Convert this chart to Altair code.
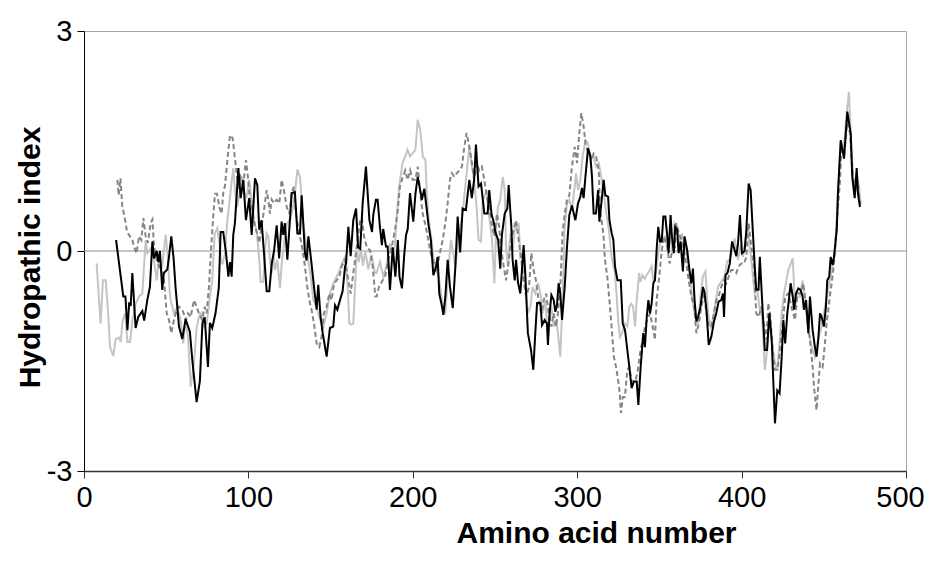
import altair as alt
import pandas as pd

# Hydropathic index profiles (amino acid number, index)
light_pts = [
    [7.7,-0.17],[10.1,-0.99],[11.5,-0.4],[13.2,-0.4],[14.7,-0.85],[15.8,-1.31],[17.8,-1.43],[19.3,-1.2],
    [21.2,-1.18],[22.3,-1.24],[23.5,-0.95],[25,-0.85],[26.4,-1.24],[28,-1.24],[29.4,-0.95],[31.4,-0.72],
    [33.5,-0.62],[35.5,-0.58],[36.5,-0.21],[37.5,0.15],[38.5,-0.03],[40.5,0.03],[42.6,-0.12],[44.2,-0.4],
    [45.6,-0.1],[47.6,-0.2],[49.7,0.22],[51.1,-0.1],[52.1,-0.55],[52.7,-0.67],[54.7,-0.85],[56.8,-0.76],
    [58.8,-0.94],[60.4,-1.26],[61.8,-0.94],[63.3,-1.17],[64.9,-1.85],[66.9,-1.53],[68.5,-1.05],[69.9,-0.9],
    [71.3,-0.85],[73,-1.03],[74.6,-0.99],[76.6,-0.62],[78,-0.4],[79.5,0.24],[81.1,0.31],[82.7,0.06],
    [83.5,-0.17],[84.3,-0.17],[85.8,-0.03],[87.2,0.42],[88.4,0.65],[89.8,0.95],[90.8,1.13],[91.8,0.83],
    [93.2,0.6],[94.6,0.79],[95.9,1.01],[97.3,0.8],[98.9,0.74],[100.5,0.97],[101.3,0.83],[102.5,0.51],
    [103.9,0.38],[105.4,0.2],[106.6,-0.12],[107.4,-0.42],[109,-0.42],[110.1,0.01],[111.1,0.24],[112.1,0.2],
    [113.1,-0.12],[114.2,-0.3],[115.2,-0.03],[116.2,-0.26],[117.6,-0.12],[119.2,-0.51],[120.2,-0.19],[122.3,0.24],
    [123.6,0.38],[125.2,0.42],[126.8,0.56],[128.3,0.79],[129.8,1.11],[131.4,1.01],[132.4,0.7],[133.4,0.38],
    [135,0.11],[136.5,-0.14],[137.9,-0.35],[139.5,-0.67],[141.5,-0.76],[143.6,-0.94],[145.6,-1.03],[147.6,-0.85],
    [149.6,-0.58],[151.6,-0.45],[153.7,-0.35],[155.7,-0.25],[157.3,-0.15],[158.8,-0.08],[160.3,-0.45],[161.4,-0.99],
    [162.8,-1.0],[163.8,-0.99],[164.8,-0.53],[165.9,0.01],[167.2,-0.15],[168.4,0.03],[169.7,-0.2],[171.1,0.0],
    [172.9,-0.25],[174.9,-0.05],[176.9,-0.3],[178,-0.3],[180,-0.15],[182.1,-0.35],[184,-0.2],[186.1,0.1],
    [188.2,-0.05],[189.2,0.1],[190.1,0.42],[191.7,0.88],[193.7,1.2],[195.4,1.29],[196.8,1.38],[198.3,1.29],
    [199.9,1.33],[201.6,1.38],[203,1.79],[204.5,1.65],[206.1,1.29],[207.7,1.24],[208.5,0.79],[209.7,0.42],
    [211.1,0.2],[212.5,-0.08],[214.2,-0.26],[215.8,-0.35],[217.2,-0.58],[218.6,-0.85],[219.8,-0.85],[220.6,-0.58],
    [221.8,-0.21],[223.2,0.15],[224.6,-0.03],[225.9,-0.21],[228.3,0.24],[230.3,0.51],[232.3,0.97],[234.4,1.42],
    [236,1.15],[237.3,0.97],[238.8,0.6],[240,0.15],[241.5,0.13],[242.5,0.7],[243.5,0.74],[245,0.83],
    [246.5,0.47],[248.2,0.15],[249.6,-0.44],[250.8,0.33],[251.8,0.6],[253.2,0.7],[254.7,1.01],[255.9,0.83],
    [256.7,0.06],[257.9,-0.21],[259.3,0.24],[260.8,0.01],[262.4,0.38],[263.4,0.29],[264.4,0.38],[265.4,-0.08],
    [266.8,-0.03],[268.4,-0.44],[270,-0.85],[271.5,-0.76],[272.9,-0.49],[274.5,-0.58],[276.2,-0.44],[277.6,-0.58],
    [279,-0.85],[280.6,-0.67],[282.2,-1.17],[283,-0.94],[284.3,-0.76],[285.7,-1.03],[287.1,-0.94],[288.3,-1.12],
    [289.7,-1.44],[290.8,-0.85],[292.4,0.33],[293.8,0.65],[295.2,0.7],[296.8,0.56],[298.5,0.88],[299.3,1.06],
    [300.5,0.83],[301.9,0.97],[303.3,1.29],[305,1.51],[306.6,1.47],[308,1.24],[310,1.29],[311.5,1.15],
    [313.1,1.2],[314.7,1.0],[316.1,0.8],[317.5,0.55],[319.2,0.3],[320.9,-0.08],[322.9,-0.3],[323.9,-0.58],
    [324.9,-0.94],[326,-1.17],[327.3,-1.12],[329,-0.99],[330.5,-1.03],[331.7,-0.76],[333,-0.72],[334,-0.76],
    [335.2,-1.03],[336.2,-0.67],[337.7,-0.3],[338.5,-0.42],[339.7,-0.33],[341.1,-0.38],[342.1,-0.33],[343.7,-0.28],
    [345.3,-0.21],[346.3,-0.42],[347.9,-0.28],[349.3,-0.01],[350.4,0.1],[351.6,0.19],[353.6,0.2],[355.2,0.01],
    [356.6,0.19],[358,-0.03],[359.3,0.38],[360.9,0.33],[362.3,0.11],[363.7,0.24],[365.3,0.06],[366.9,-0.08],
    [368.3,-0.3],[369.7,-0.57],[371.4,-0.85],[373.4,-0.99],[375,-0.62],[376.4,-0.35],[378,-0.28],[379.6,-0.85],
    [381.2,-1.03],[382.6,-0.94],[384,-0.72],[385.6,-0.49],[387.6,-0.42],[389.6,-0.35],[391.2,-0.14],[392.7,-0.12],
    [394.2,0.01],[395.8,0.17],[397.8,-0.12],[399.4,0.08],[400.8,-0.08],[402.1,0.1],[403.5,0.33],[404.9,0.06],
    [406.3,-0.21],[408,-0.58],[409.6,-0.53],[411,-0.8],[412.4,-0.85],[414.1,-1.62],[415.1,-1.44],[416.7,-0.85],
    [418.1,-1.21],[420.3,-1.53],[421.7,-1.62],[422.9,-1.3],[424.4,-0.85],[425.8,-0.58],[428.4,-0.26],[431.1,-0.1],
    [432.5,-0.76],[433.9,-0.62],[435.5,-0.62],[437.1,-0.4],[438.5,-0.62],[440.6,-1.08],[442.6,-1.31],[444.6,-1.44],
    [446.6,-1.21],[448.7,-1.03],[450.7,-0.76],[452.7,-0.53],[454.8,-0.26],[456.8,-0.03],[458.6,0.79],[460.3,1.51],
    [461.9,1.33],[463.9,1.88],[465.3,2.17],[466.7,1.42],[468.4,0.83],[470,1.06],[471.4,0.88],[472.4,0.65],
]

dashed_pts = [
    [20.3,0.97],[21.1,0.76],[22.2,0.99],[23.3,0.6],[24.3,0.51],[25.2,0.4],[26.2,0.26],[28,0.2],
    [29.4,0.15],[30.4,0.06],[32,-0.03],[33.4,0.2],[34.9,0.15],[36.1,0.45],[37.5,0.2],[38.9,0.11],
    [40.5,0.38],[41.6,0.43],[42.6,0.06],[44.2,-0.12],[45.6,-0.21],[47,-0.26],[48.7,-0.4],[50.3,-0.85],
    [51.7,-0.94],[53.1,-1.12],[54.7,-0.94],[56.4,-0.8],[57.8,-0.76],[59.8,-0.8],[61.9,-0.94],[63.3,-0.85],
    [64.9,-0.9],[66.9,-0.67],[68.5,-0.76],[69.9,-0.85],[71.9,-0.94],[73.4,-0.76],[74.6,-0.85],[76,-0.49],
    [77.4,0.06],[78.7,0.51],[79.7,0.78],[80.9,0.78],[82.3,0.6],[83.7,0.51],[84.7,0.79],[85.8,0.9],
    [87.2,1.24],[88.8,1.58],[90.4,1.54],[91.2,1.38],[92.4,1.15],[93.9,0.83],[95.3,1.01],[96.9,0.92],
    [98.5,1.24],[99.9,0.97],[100.9,0.7],[102.5,0.56],[104,0.33],[105.4,0.24],[106.6,0.11],[108,0.33],
    [109.5,0.56],[111.1,0.83],[112.1,0.7],[113.1,0.51],[114.2,0.7],[115.6,0.65],[117.2,0.7],[118.8,0.65],
    [120.2,0.97],[121.6,0.83],[123.3,0.6],[124.9,0.51],[126.3,0.79],[127.7,0.88],[128.9,0.51],[130.3,0.33],
    [131.8,0.15],[133,0.01],[134.4,-0.21],[135.8,-0.49],[137.5,-0.72],[138.5,-0.81],[139.9,-0.99],[141.5,-1.26],
    [143.1,-1.31],[144.5,-1.17],[145.9,-0.85],[147.6,-0.76],[149.2,-0.58],[150.6,-0.67],[152,-0.45],[153.7,-0.4],
    [155.3,-0.35],[156.7,-0.21],[158.8,-0.12],[160.8,-0.4],[162.2,-0.58],[163.8,-0.3],[165.9,0.06],[167.9,0.42],
    [169,0.45],[170.3,0.2],[172,0.05],[174,0.01],[175.6,-0.21],[177.2,-0.62],[178,-0.62],[179.4,-0.49],
    [181.7,-0.4],[183.1,-0.35],[185.1,-0.12],[187.2,0.06],[189.2,0.29],[190.6,0.51],[192.2,0.88],[193.9,1.01],
    [195.4,1.1],[196.9,0.97],[198.4,1.1],[199.9,0.97],[201.6,0.97],[203,1.15],[204.5,0.8],[206,0.51],
    [207.7,0.35],[209,0.2],[210.6,0.0],[212,-0.12],[213.7,-0.22],[214.6,-0.28],[216.2,-0.05],[218.2,0.15],
    [219.9,0.4],[221.2,0.65],[222.6,0.97],[223.8,1.06],[225.3,1.01],[226.7,1.06],[228.3,1.1],[229.9,1.15],
    [231.3,1.42],[232.7,1.61],[234.4,1.42],[236,1.2],[237.3,0.97],[238.8,1.2],[240.4,1.1],[242,1.15],
    [243.5,0.97],[245,0.74],[246.5,0.6],[248.2,0.35],[249.6,0.2],[251.2,0.51],[252.6,0.33],[253.5,0.06],
    [255.3,-0.21],[256.7,-0.4],[258.3,-0.15],[259.5,0.1],[261.2,0.29],[262.8,0.42],[264.4,0.15],[266,-0.12],
    [267.4,-0.4],[268.9,-0.62],[270.7,-0.49],[272.1,-0.03],[273.5,-0.26],[274.9,-0.4],[276.5,-0.67],[278.2,-0.85],
    [279.6,-0.67],[281.1,-0.58],[282.7,-0.85],[284.3,-1.03],[285.7,-0.85],[287.1,-1.03],[288.3,-0.85],[289.7,-0.49],
    [291.1,0.24],[292.4,0.51],[293.8,0.7],[295.2,0.76],[296.8,1.15],[298.5,1.42],[299.9,1.2],[301.3,1.61],
    [302.5,1.88],[303.9,1.7],[305.3,1.42],[307,1.33],[308.6,1.24],[310,1.33],[311.5,1.29],[313.1,1.1],
    [313.9,0.56],[315.9,0.24],[316.9,-0.12],[318.3,-0.35],[319.6,-0.67],[320.9,-1.03],[322.3,-1.44],[323.6,-1.58],
    [324.9,-1.76],[325.9,-1.94],[326.6,-2.21],[327.7,-1.99],[329,-1.99],[330.5,-1.62],[331.7,-1.58],[333.1,-1.78],
    [335.2,-1.78],[336.6,-1.67],[338.2,-1.4],[339.8,-1.21],[341.2,-1.03],[342.6,-0.94],[344.3,-0.85],[345.9,-1.03],
    [347.3,-1.21],[348.3,-0.67],[349.9,-0.35],[351.4,0.01],[352.8,0.2],[354.6,0.06],[356.2,-0.17],[357.8,0.0],
    [359.4,0.05],[360.3,0.38],[361.9,0.24],[363.5,0.15],[365,-0.03],[366.4,-0.17],[367.8,-0.4],[369.4,-0.62],
    [371.1,-0.76],[372.5,-1.12],[374,-0.99],[375.5,-0.76],[377.2,-0.58],[378.6,-0.85],[380,-1.03],[381.6,-1.03],
    [383.2,-0.85],[384.6,-0.67],[386,-0.62],[387.6,-0.49],[389.3,-0.4],[390.7,-0.44],[392.1,-0.35],[393.7,-0.26],
    [395.3,-0.26],[396.8,-0.3],[398.2,-0.21],[399.8,-0.17],[401.5,-0.17],[402.9,-0.08],[404.3,0.38],[405.9,0.06],
    [407.5,-0.21],[408.9,-0.85],[410.4,-0.9],[412,-0.76],[413.6,-0.99],[415.2,-1.21],[416.2,-0.71],[417.3,-0.85],
    [419.3,-1.44],[420.3,-1.62],[421.9,-1.62],[423.3,-1.35],[425.4,-0.9],[426.5,-0.62],[428.4,-0.58],[430.5,-0.78],
    [432.5,-0.94],[434,-0.58],[435.5,-0.58],[436.9,-0.5],[437.5,-0.44],[439.6,-0.85],[441.6,-1.21],[443.2,-1.58],
    [444,-1.85],[445.6,-2.17],[446.6,-1.85],[447.7,-1.53],[449.3,-1.58],[450.7,-1.26],[451.7,-0.99],[453.7,-0.62],
    [454.8,-0.44],[456.2,-0.17],[457.9,0.38],[459.9,0.97],[460.7,1.42],[462.3,1.3],[464.3,1.75],[465.9,1.61],
    [467.5,1.05],[469,0.8],[470.4,0.97],[472.3,0.6],
]

black_pts = [
    [19.5,0.15],[23.9,-0.62],[25.2,-0.62],[26.4,-1.08],[27.5,-0.7],[28.4,-0.75],[29.4,-0.3],[31.4,-1.05],
    [33,-0.9],[35.5,-0.82],[36.6,-0.95],[38.5,-0.67],[40.1,-0.49],[41.6,0.13],[42.6,-0.1],[44.2,0.0],
    [45.2,-0.15],[46.2,0.0],[47.6,-0.53],[48.6,-0.3],[50.7,-0.25],[51.7,-0.08],[53.1,0.2],[54.5,-0.1],
    [55.7,-0.5],[57.8,-1.03],[59.8,-1.2],[61.8,-0.93],[64.4,-1.1],[65.9,-1.49],[68.5,-2.06],[70.5,-1.77],
    [72,-0.99],[73.4,-0.9],[75.4,-1.58],[76.6,-0.98],[78,-1.05],[80,-0.85],[82,-0.5],[83.1,0.26],
    [84.7,0.26],[86.4,-0.03],[87.8,-0.35],[88.8,-0.15],[89.8,-0.35],[90.8,0.22],[91.8,0.38],[93.9,1.13],
    [95.3,0.72],[96.9,0.97],[98.5,0.42],[100.5,0.72],[102,0.22],[104,0.99],[105.4,0.9],[106.6,0.29],
    [108,0.42],[109.5,-0.03],[111.1,-0.55],[112.7,-0.55],[114.2,-0.17],[115.6,0.0],[117.2,0.35],[118.7,-0.1],
    [120.2,0.4],[121.2,0.22],[122.2,0.38],[123.7,-0.12],[126.3,0.79],[128.3,0.8],[129.8,0.24],[131.4,0.24],
    [132.4,0.76],[134.4,-0.03],[135.4,-0.13],[136.5,0.2],[138.2,-0.13],[139.9,-0.49],[141.5,-0.8],[142.5,-0.46],
    [143.9,-0.9],[145.2,-1.12],[147.6,-1.44],[149.6,-1.05],[151.6,-1.03],[152.7,-0.74],[154.1,-0.8],[155.7,-0.67],
    [157.3,-0.55],[158.8,-0.21],[159.4,-0.17],[160.8,0.33],[162.2,-0.07],[163.8,0.42],[165.5,0.58],[166.7,0.05],
    [168,0.03],[169.5,0.65],[171.5,1.15],[173.6,0.42],[175.2,0.26],[176,0.5],[177.6,0.7],[178.6,0.7],
    [180,0.33],[181.2,0.08],[182,0.3],[183.7,0.06],[184.7,0.06],[186.1,-0.53],[187.8,0.05],[189.4,-0.35],
    [190.9,0.15],[191.9,-0.35],[193.4,-0.51],[194.8,-0.05],[195.9,0.22],[196.9,0.3],[198.3,0.79],[200.3,0.4],
    [201.6,0.78],[203,1.01],[204.5,0.83],[205.5,0.7],[207,0.85],[208.4,0.58],[209.6,0.35],[211,0.15],
    [212.5,-0.33],[214.1,-0.22],[215.1,-0.08],[216.1,-0.58],[217.8,-0.76],[218.6,-0.87],[219.8,-0.62],[221.2,-0.12],
    [222.6,-0.49],[224.3,-0.78],[225.9,-0.21],[227.3,0.47],[228.8,-0.02],[230.3,0.58],[232.3,0.56],[234.4,0.97],
    [235.9,0.72],[237.3,0.97],[238.4,1.45],[240,0.88],[241.5,0.92],[242.5,0.72],[243.5,0.51],[245.5,0.51],
    [246.5,0.83],[247.9,0.5],[249.2,0.4],[250.2,0.26],[251.9,0.15],[253.2,-0.24],[254.2,0.22],[255.9,0.51],
    [257.5,0.58],[258.3,0.9],[259.9,0.35],[260.7,-0.12],[262,-0.4],[262.8,-0.12],[264,-0.43],[265.4,-0.58],
    [266.4,-0.26],[267.4,0.08],[268.4,-0.3],[270,-1.12],[271.9,-1.35],[273.3,-1.62],[274.5,-1.12],[275.6,-0.71],
    [277.6,-0.71],[278.6,-1.01],[280.2,-0.94],[281.6,-0.99],[282.2,-1.28],[283.2,-0.85],[284.3,-0.6],[285.7,-0.67],
    [286.7,-0.83],[287.7,-0.74],[288.7,-0.44],[289.7,-0.58],[290.8,-0.94],[292.4,-0.49],[293.8,0.06],[295.2,0.49],
    [296.8,0.62],[297.9,0.51],[298.9,0.42],[300.5,0.65],[301.9,0.74],[302.9,0.86],[303.9,0.72],[305,1.01],
    [306.6,1.4],[308,1.3],[309,1.01],[310,0.51],[311.4,0.51],[312.7,0.83],[313.5,0.4],[315.1,0.74],
    [316.1,0.97],[317.1,0.76],[318.8,0.74],[319.6,0.42],[321,0.24],[322,0.15],[323,-0.21],[324.5,-0.4],
    [326.5,-0.4],[327.7,-0.99],[329.1,-1.08],[330.5,-1.35],[331.7,-1.58],[333.1,-1.87],[334.5,-1.78],[336.2,-1.78],
    [337.2,-2.1],[338.6,-1.58],[340.2,-1.12],[341.2,-1.31],[342.3,-0.9],[343.3,-0.67],[344.3,-0.85],[345.3,-0.71],
    [346.3,-0.44],[347.3,-0.4],[348.3,0.01],[349.3,0.33],[350.4,0.13],[351.4,0.13],[352.4,0.47],[353.6,0.47],
    [354.8,0.2],[355.6,-0.03],[356.8,0.49],[357.6,0.2],[358.8,-0.03],[359.6,0.33],[360.8,0.29],[361.7,-0.03],
    [362.9,0.13],[364.3,-0.28],[365.3,0.2],[366.9,0.01],[368.3,-0.26],[369.4,-0.44],[370.4,-0.24],[371.4,-0.67],
    [372.5,-0.96],[373.5,-0.9],[375,-0.76],[376.5,-0.49],[377.5,-0.57],[378.6,-0.8],[380,-1.28],[381.6,-1.17],
    [383.2,-0.96],[384.6,-0.85],[386,-0.69],[387.6,-0.67],[388.7,-0.58],[389.3,-0.9],[390.2,-0.33],[391.4,-0.3],
    [392.8,-0.17],[394.2,0.13],[395.4,0.04],[396.8,-0.07],[397.8,0.1],[399,0.49],[400.2,-0.03],[401.8,0.0],
    [402.9,0.29],[404.3,0.92],[405.5,0.83],[406.9,0.24],[407.9,-0.17],[408.9,-0.53],[410.3,-0.53],[411.1,-0.08],
    [412.3,-0.6],[414.1,-1.35],[415.5,-1.35],[416.9,-0.85],[418.3,-1.21],[420.3,-2.35],[421.7,-1.9],[423.1,-1.94],
    [424.4,-1.44],[425.4,-0.94],[426.5,-1.26],[427.8,-0.85],[429,-0.62],[429.8,-0.44],[431.1,-0.62],[431.9,-0.8],
    [433.1,-0.58],[434.5,-0.51],[435.9,-0.53],[437.1,-0.62],[437.9,-0.8],[439.2,-0.67],[440.6,-1.12],[441.6,-0.62],
    [443.2,-1.08],[444.6,-1.31],[445.6,-1.44],[446.6,-1.21],[447.7,-0.85],[448.7,-0.9],[450.1,-1.03],[451.3,-0.76],
    [452.1,-0.4],[453.3,-0.35],[454.2,-0.08],[455.4,-0.19],[456.2,-0.08],[457.9,0.29],[458.6,0.79],[460.3,1.51],
    [462.3,1.26],[464.3,1.9],[466.4,1.6],[467.3,1.01],[468.8,0.72],[470,1.13],[470.8,0.78],[472,0.6],
]

x_ticks = [0, 100, 200, 300, 400, 500]
y_ticks = [-3, 0, 3]
FONT = "Liberation Sans"


def frame(pts):
    return pd.DataFrame({
        "aa": [p[0] for p in pts],
        "hi": [p[1] for p in pts],
        "i": list(range(len(pts))),
    })


x_axis = alt.Axis(
    values=x_ticks, title="Amino acid number", grid=False,
    tickSize=7, tickColor="#333333", domainColor="#333333", domainWidth=1.5,
    labelFont=FONT, labelFontSize=29, labelColor="black", labelPadding=5,
    labelFlush=False, labelOverlap=False,
    labelOffset={"condition": {"test": "datum.value == 500", "value": -6}, "value": 0},
    titleFont=FONT, titleFontSize=30, titleFontWeight="bold", titleColor="black",
    titleX=512, titleY=62, titleAlign="center", titleBaseline="middle",
)
y_axis = alt.Axis(
    values=y_ticks, title="Hydropathic index", grid=False,
    tickSize=7, tickColor="black", domainColor="black", domainWidth=1,
    labelFont=FONT, labelFontSize=29, labelColor="black", labelPadding=5,
    labelFlush=False, labelOverlap=False,
    labelExpr="'' + datum.value",
    titleFont=FONT, titleFontSize=30, titleFontWeight="bold", titleColor="black",
    titleX=-54, titleY=226, titleAngle=270, titleAlign="center", titleBaseline="middle",
)

x_enc = alt.X("aa:Q", scale=alt.Scale(domain=[0, 500], nice=False, zero=False), axis=x_axis)
y_enc = alt.Y("hi:Q", scale=alt.Scale(domain=[-3, 3], nice=False), axis=y_axis)

zero_line = alt.Chart(pd.DataFrame({"hi": [0]})).mark_rule(
    color="#8c8c8c", strokeWidth=1
).encode(y=y_enc)

light = alt.Chart(frame(light_pts)).mark_line(
    color="#c4c4c4", strokeWidth=2, clip=True
).encode(x=x_enc, y=y_enc, order="i:Q")

dashed = alt.Chart(frame(dashed_pts)).mark_line(
    color="#858585", strokeWidth=2, strokeDash=[5, 3], clip=True
).encode(x=x_enc, y=y_enc, order="i:Q")

black = alt.Chart(frame(black_pts)).mark_line(
    color="#000000", strokeWidth=2, clip=True
).encode(x=x_enc, y=y_enc, order="i:Q")

chart = alt.layer(zero_line, light, dashed, black).properties(
    width=822, height=440,
    padding={"left": 76, "top": 23, "right": 20, "bottom": 78},
    autosize=alt.AutoSizeParams(type="none"),
    background="white",
).configure_view(stroke="#a6a6a6", strokeWidth=1)

chart.save("out.html", embed_options={"renderer": "svg", "actions": False})
